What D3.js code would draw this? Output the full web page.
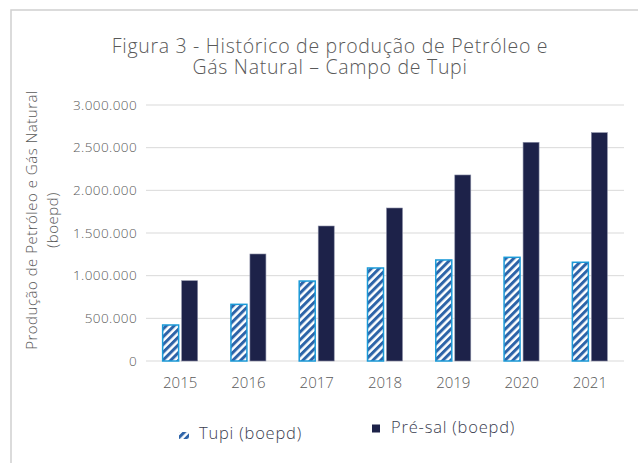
<!DOCTYPE html>
<html lang="pt">
<head>
<meta charset="UTF-8">
<title>Campo de Tupi</title>
<script src="https://cdn.jsdelivr.net/npm/d3@7"></script>
<style>
    body { margin: 0; background: #fff; }
    text { font-family: "Open Sans", Lato, sans-serif; }
</style>
</head>
<body>
<svg id="chart" width="638" height="463"></svg>
<script>
    const years = ["2015", "2016", "2017", "2018", "2019", "2020", "2021"];
    const tupi = [422000, 664000, 937000, 1090000, 1184000, 1215000, 1157000];
    const preSal = [941000, 1254000, 1582000, 1793000, 2180000, 2563000, 2676000];
    const yTicks = [0, 500000, 1000000, 1500000, 2000000, 2500000, 3000000];
    const seriesNames = ["Tupi (boepd)", "Pré-sal (boepd)"];

    const svg = d3.select("#chart");
    const font = "'Open Sans', sans-serif";

    // frame
    svg.append("rect")
        .attr("x", 11).attr("y", 10)
        .attr("width", 640).attr("height", 470)
        .attr("fill", "none").attr("stroke", "#d0d0d0").attr("stroke-width", 1.5);

    const defs = svg.append("defs");
    const pat = defs.append("pattern")
        .attr("id", "stripes")
        .attr("patternUnits", "userSpaceOnUse")
        .attr("width", 5.5).attr("height", 5.5)
        .attr("patternTransform", "rotate(-45)");
    pat.append("rect").attr("width", 5.5).attr("height", 5.5).attr("fill", "#fff");
    pat.append("rect").attr("width", 5.5).attr("height", 3).attr("fill", "#2d63a8");

    const x = d3.scaleBand().domain(years).range([146, 624]);
    const y = d3.scaleLinear().domain([0, 3000000]).range([361, 105]);

    const fmt = v => d3.format(",")(v).replace(/,/g, ".");

    // gridlines
    svg.append("g").selectAll("line").data(yTicks).join("line")
        .attr("x1", 146).attr("x2", 624)
        .attr("y1", d => y(d)).attr("y2", d => y(d))
        .attr("stroke", "#d9d9d9").attr("stroke-width", 1);

    // y axis labels
    const yAxis = svg.append("g")
        .attr("transform", "translate(146,0)")
        .call(d3.axisLeft(y).tickValues(yTicks).tickFormat(fmt).tickSize(0).tickPadding(9));
    yAxis.select(".domain").remove();
    yAxis.selectAll("text").attr("font-size", 13.5).attr("fill", "#595959")
        .attr("letter-spacing", 0.4)
        .attr("font-weight", 300).attr("font-family", font);

    // x axis labels
    const xAxis = svg.append("g")
        .attr("transform", "translate(0,361)")
        .call(d3.axisBottom(x).tickSize(0).tickPadding(16));
    xAxis.select(".domain").remove();
    xAxis.selectAll("text").attr("font-size", 15).attr("fill", "#595959")
        .attr("font-weight", 300).attr("font-family", font);

    const barW = 16, gap = 3;
    const cx = d => x(d) + x.bandwidth() / 2;

    svg.append("g").selectAll("rect").data(years).join("rect")
        .attr("x", d => cx(d) - gap / 2 - barW)
        .attr("y", (d, i) => y(tupi[i]))
        .attr("width", barW)
        .attr("height", (d, i) => y(0) - y(tupi[i]))
        .attr("fill", "url(#stripes)")
        .attr("stroke", "#1b9ad8").attr("stroke-width", 1.5);

    svg.append("g").selectAll("rect").data(years).join("rect")
        .attr("x", d => cx(d) + gap / 2)
        .attr("y", (d, i) => y(preSal[i]))
        .attr("width", barW)
        .attr("height", (d, i) => y(0) - y(preSal[i]))
        .attr("fill", "#1d2249")
        .attr("stroke", "#8a8ea6").attr("stroke-width", 0.6);

    // title
    const title = svg.append("text")
        .attr("text-anchor", "middle").attr("font-family", font)
        .attr("font-size", 19.5).attr("font-weight", 300).attr("fill", "#595959")
        .attr("letter-spacing", 0.7);
    title.append("tspan").attr("x", 330).attr("y", 52.5).text("Figura 3 - Histórico de produção de Petróleo e");
    title.append("tspan").attr("x", 330).attr("y", 73.5).text("Gás Natural – Campo de Tupi");

    // y axis title
    const yt = svg.append("text")
        .attr("transform", "translate(0,220) rotate(-90)")
        .attr("text-anchor", "middle").attr("font-family", font)
        .attr("font-size", 15).attr("font-weight", 300).attr("fill", "#595959")
        .attr("letter-spacing", 0.5);
    yt.append("tspan").attr("x", 0).attr("y", 37).text("Produção de Petróleo e Gás Natural");
    yt.append("tspan").attr("x", 0).attr("y", 58).text("(boepd)");

    // legend
    const lg = svg.append("g");
    lg.append("rect").attr("x", 179).attr("y", 432).attr("width", 10).attr("height", 7)
        .attr("fill", "url(#stripes)");
    lg.append("text").attr("x", 199).attr("y", 439).attr("font-size", 16.5)
        .attr("font-family", font).attr("font-weight", 300).attr("letter-spacing", 0.8)
        .attr("fill", "#3a3d4f").text(seriesNames[0]);
    lg.append("rect").attr("x", 372).attr("y", 424.5).attr("width", 8).attr("height", 8)
        .attr("fill", "#1d2249");
    lg.append("text").attr("x", 391).attr("y", 432.5).attr("font-size", 16.5)
        .attr("font-family", font).attr("font-weight", 300).attr("letter-spacing", 0.8)
        .attr("fill", "#3a3d4f").text(seriesNames[1]);
</script>
</body>
</html>
